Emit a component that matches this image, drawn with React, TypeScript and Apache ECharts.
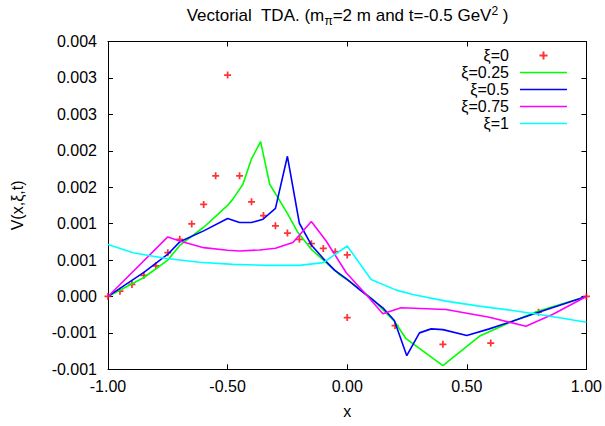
import React, { useEffect, useRef } from "react";
import * as echarts from "echarts";

const xTickLabels = ["-1.00", "-0.50", "0.00", "0.50", "1.00"];
const yTickLabels = ["-0.001", "-0.001", "0.000", "0.001", "0.001", "0.002", "0.002", "0.003", "0.003", "0.004"];

const seriesNames = ["ξ=0", "ξ=0.25", "ξ=0.5", "ξ=0.75", "ξ=1"];
const seriesColors = ["#ff0000", "#00ff00", "#0000ff", "#ff00ff", "#00ffff"];

// ξ = 0 (points)
const xi0X = [-1, -0.95, -0.9, -0.85, -0.8, -0.75, -0.7, -0.65, -0.6, -0.55, -0.5, -0.45, -0.4, -0.35, -0.3, -0.25, -0.2, -0.15, -0.1, -0.05, 0, 0, 0.2, 0.4, 0.6, 0.8, 1];
const xi0Y = [0, 0.000073, 0.000165, 0.00029, 0.00042, 0.0006, 0.000785, 0.000996, 0.001263, 0.001657, 0.00304, 0.001657, 0.0013, 0.00111, 0.00097, 0.00087, 0.000785, 0.000725, 0.00066, 0.000615, 0.00057, -0.000289, -0.0004, -0.000657, -0.00064, -0.000216, 0];

// ξ = 0.25
const xi025X = [-1, -0.85, -0.75, -0.7, -0.6, -0.55, -0.5, -0.478, -0.436, -0.4, -0.362, -0.324, -0.25, -0.206, -0.15, -0.088, -0.032, 0.037, 0.107, 0.149, 0.197, 0.246, 0.4, 0.552, 0.692, 0.8, 1];
const xi025Y = [0, 0.00026, 0.0005, 0.0007, 0.00095, 0.0011, 0.00125, 0.001336, 0.00154, 0.00189, 0.002125, 0.00154, 0.00114, 0.000877, 0.000647, 0.000464, 0.0003, 0.000142, -0.00004, -0.00018, -0.00034, -0.00058, -0.00095, -0.000547, -0.00034, -0.0002, 0];

// ξ = 0.5
const xi05X = [-1, -0.85, -0.75, -0.7, -0.6, -0.5, -0.45, -0.4, -0.352, -0.3, -0.25, -0.2, -0.15, -0.1, -0.053, 0, 0.05, 0.1, 0.149, 0.197, 0.249, 0.302, 0.351, 0.4, 0.5, 0.594, 0.69, 0.8, 1];
const xi05Y = [0, 0.00033, 0.00058, 0.00075, 0.0009, 0.00107, 0.001015, 0.001015, 0.00106, 0.00121, 0.001924, 0.001005, 0.000707, 0.00052, 0.000362, 0.000234, 0.000096, -0.00003, -0.000156, -0.00033, -0.000813, -0.0005, -0.000445, -0.000455, -0.000537, -0.000445, -0.00034, -0.000216, 0];

// ξ = 0.75
const xi075X = [-1, -0.75, -0.7, -0.6, -0.5, -0.45, -0.366, -0.3, -0.227, -0.15, -0.088, -0.004, 0.079, 0.149, 0.225, 0.413, 0.594, 0.747, 0.858, 1];
const xi075Y = [0, 0.000817, 0.000762, 0.00067, 0.000634, 0.000624, 0.000638, 0.000661, 0.00074, 0.001029, 0.000762, 0.000326, 0.000028, -0.000238, -0.000156, -0.00018, -0.000285, -0.00041, -0.000248, 0];

// ξ = 1
const xi1X = [-1, -0.895, -0.756, -0.617, -0.478, -0.338, -0.2, -0.1, 0, 0.1, 0.205, 0.274, 0.413, 0.552, 0.692, 0.831, 1];
const xi1Y = [0.000712, 0.0006, 0.00052, 0.00047, 0.00044, 0.000427, 0.000427, 0.000464, 0.000693, 0.000234, 0.000087, 0.000028, -0.000064, -0.000133, -0.000193, -0.000262, -0.000354];

const lineX = [xi025X, xi05X, xi075X, xi1X];
const lineY = [xi025Y, xi05Y, xi075Y, xi1Y];

const plusPath = "path://M3,0H5V3H8V5H5V8H3V5H0V3H3Z";
const lineIconPath = "path://M0,0H60V2H0Z";
const FONT = "Liberation Sans";

export default function App() {
  const ref = useRef<HTMLDivElement>(null);
  useEffect(() => {
    document.body.style.margin = "0";
    if (!ref.current) return;
    const chart = echarts.init(ref.current, null, { renderer: "svg" });

    const xAxisBase = {
      type: "value",
      min: -1,
      max: 1,
      interval: 0.5,
      splitLine: { show: false },
      axisLine: { onZero: false, lineStyle: { color: "#000", width: 1 } },
      axisTick: { inside: true, length: 5, lineStyle: { color: "#000" } },
    };
    const yAxisBase = {
      type: "value",
      min: -0.001,
      max: 0.0035,
      interval: 0.0005,
      splitLine: { show: false },
      axisLine: { onZero: false, lineStyle: { color: "#000", width: 1 } },
      axisTick: { inside: true, length: 5, lineStyle: { color: "#000" } },
    };

    const lineSeries = lineX.map((xs, k) => ({
      type: "line",
      name: seriesNames[k + 1],
      data: xs.map((x, i) => [x, lineY[k][i]]),
      symbol: "none",
      lineStyle: { color: seriesColors[k + 1], width: 1.6 },
      itemStyle: { color: seriesColors[k + 1] },
      xAxisIndex: 0,
      yAxisIndex: 0,
    }));

    chart.setOption({
      animation: false,
      backgroundColor: "#ffffff",
      textStyle: { fontFamily: FONT },
      grid: { left: 108, right: 18, top: 41.5, bottom: 56.7, containLabel: false },
      graphic: [
        {
          type: "text",
          x: 347.5,
          y: 15.5,
          style: {
            text: "Vectorial  TDA. (m{sub|π}=2 m and t=-0.5 GeV{sup|2} )",
            fontFamily: FONT,
            fontSize: 17,
            lineHeight: 22,
            fill: "#000",
            align: "center",
            verticalAlign: "middle",
            rich: {
              sub: { fontFamily: FONT, fontSize: 12, lineHeight: 12, verticalAlign: "bottom", fill: "#000" },
              sup: { fontFamily: FONT, fontSize: 12, lineHeight: 12, verticalAlign: "top", fill: "#000" },
            },
          },
        },
      ],
      legend: {
        orient: "vertical",
        right: 38,
        top: 47,
        align: "right",
        itemWidth: 47,
        itemHeight: 8,
        itemGap: 0,
        padding: 0,
        selectedMode: false,
        textStyle: { fontFamily: FONT, fontSize: 16, lineHeight: 17, color: "#000", padding: [0, 6, 0, 0] },
        data: [
          { name: seriesNames[0], icon: plusPath },
          { name: seriesNames[1], icon: lineIconPath },
          { name: seriesNames[2], icon: lineIconPath },
          { name: seriesNames[3], icon: lineIconPath },
          { name: seriesNames[4], icon: lineIconPath },
        ],
      },
      xAxis: [
        {
          ...xAxisBase,
          position: "bottom",
          name: "x",
          nameLocation: "middle",
          nameGap: 34,
          nameTextStyle: { fontFamily: FONT, fontSize: 16, color: "#000" },
          axisLabel: {
            fontFamily: FONT,
            fontSize: 16,
            color: "#000",
            margin: 9,
            formatter: (v: number) => xTickLabels[Math.round((v + 1) / 0.5)] ?? "",
          },
        },
        { ...xAxisBase, position: "top", axisLabel: { show: false } },
      ],
      yAxis: [
        {
          ...yAxisBase,
          position: "left",
          name: "V(x,ξ,t)",
          nameLocation: "middle",
          nameRotate: 90,
          nameGap: 83,
          nameTextStyle: { fontFamily: FONT, fontSize: 16, color: "#000" },
          axisLabel: {
            fontFamily: FONT,
            fontSize: 16,
            color: "#000",
            margin: 11,
            padding: [5, 0, 0, 0],
            formatter: (v: number) => yTickLabels[Math.round((v + 0.001) / 0.0005)] ?? "",
          },
        },
        { ...yAxisBase, position: "right", axisLabel: { show: false } },
      ],
      series: [
        {
          type: "scatter",
          name: seriesNames[0],
          data: xi0X.map((x, i) => [x, xi0Y[i]]),
          symbol: plusPath,
          symbolSize: 7,
          itemStyle: { color: seriesColors[0] },
          xAxisIndex: 0,
          yAxisIndex: 0,
        },
        ...lineSeries,
      ],
    });
    return () => chart.dispose();
  }, []);
  return <div ref={ref} style={{ width: 605, height: 426 }} />;
}
